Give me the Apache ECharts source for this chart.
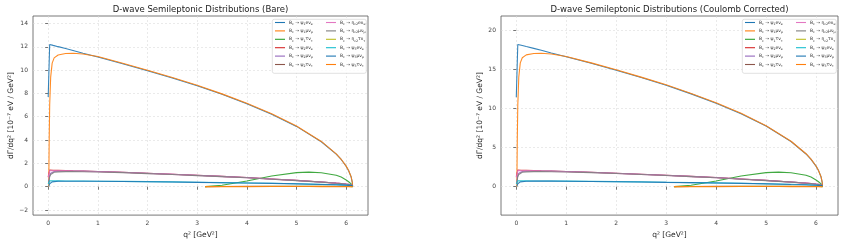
<!DOCTYPE html>
<html>
<head>
<meta charset="utf-8">
<script src="https://cdn.jsdelivr.net/npm/echarts@6/dist/echarts.min.js"></script>
<style>
  html, body { margin: 0; padding: 0; background: #fff; }
  #chart { width: 845px; height: 244px; }
</style>
</head>
<body>
<div id="chart"></div>
<script>
// q^2 grids [GeV^2] for e, mu and tau channels
const qE = [0, 0.03, 0.1, 0.2, 0.35, 0.5, 0.7, 1.0, 1.5, 2.0, 2.5, 3.0, 3.5, 4.0, 4.5, 5.0, 5.5, 5.8, 5.9, 6.0, 6.05, 6.1, 6.125, 6.13]
const qMu = [0.011, 0.02, 0.03, 0.05, 0.08, 0.12, 0.2, 0.35, 0.5, 0.7, 1.0, 1.5, 2.0, 2.5, 3.0, 3.5, 4.0, 4.5, 5.0, 5.5, 5.8, 5.9, 6.0, 6.05, 6.1, 6.125, 6.13]
const qTau = [3.16, 3.5, 4.0, 4.5, 5.0, 5.25, 5.5, 5.8, 5.9, 6.0, 6.05, 6.1, 6.13]

// tick labels
const xTicks = [0, 1, 2, 3, 4, 5, 6]
const yTicksBare = [-2, 0, 2, 4, 6, 8, 10, 12, 14]
const yTicksCoul = [0, 5, 10, 15, 20]

// series (legend order)
const names = ['psi1_e', 'psi1_mu', 'psi1_tau', 'psi2_e', 'psi2_mu', 'psi2_tau',
               'etac2_e', 'etac2_mu', 'etac2_tau', 'psi3_e', 'psi3_mu', 'psi3_tau']
const legendLabels = [
  '{t|B}{s|c}{t| → ψ}{s|1}{t|eν}{s|e}', '{t|B}{s|c}{t| → ψ}{s|1}{t|μν}{s|μ}', '{t|B}{s|c}{t| → ψ}{s|1}{t|τν}{s|τ}',
  '{t|B}{s|c}{t| → ψ}{s|2}{t|eν}{s|e}', '{t|B}{s|c}{t| → ψ}{s|2}{t|μν}{s|μ}', '{t|B}{s|c}{t| → ψ}{s|2}{t|τν}{s|τ}',
  '{t|B}{s|c}{t| → η}{s|c2}{t|eν}{s|e}', '{t|B}{s|c}{t| → η}{s|c2}{t|μν}{s|μ}', '{t|B}{s|c}{t| → η}{s|c2}{t|τν}{s|τ}',
  '{t|B}{s|c}{t| → ψ}{s|3}{t|eν}{s|e}', '{t|B}{s|c}{t| → ψ}{s|3}{t|μν}{s|μ}', '{t|B}{s|c}{t| → ψ}{s|3}{t|τν}{s|τ}'
]
const grids = [qE, qMu, qTau, qE, qMu, qTau, qE, qMu, qTau, qE, qMu, qTau]
const colors = ['#1f77b4', '#ff7f0e', '#2ca02c', '#d62728', '#9467bd', '#8c564b',
                '#e377c2', '#7f7f7f', '#bcbd22', '#17becf', '#1f77b4', '#ff7f0e']

// dGamma/dq^2 [1e-7 eV / GeV^2], bare
const bPsi1E = [7.7, 12.2, 12.12, 12.01, 11.85, 11.68, 11.45, 11.12, 10.55, 9.95, 9.32, 8.66, 7.92, 7.12, 6.22, 5.17, 3.85, 2.79, 2.33, 1.75, 1.37, 0.84, 0.34, 0]
const bPsi1Mu = [0, 4.0, 7.0, 9.4, 10.6, 11.05, 11.3, 11.42, 11.45, 11.38, 11.16, 10.59, 9.99, 9.36, 8.7, 7.96, 7.16, 6.26, 5.2, 3.88, 2.81, 2.35, 1.76, 1.38, 0.85, 0.34, 0]
const bPsi1Tau = [0, 0.12, 0.48, 0.92, 1.2, 1.25, 1.19, 0.98, 0.82, 0.57, 0.42, 0.24, 0]
const bPsi2E = [0.85, 1.42, 1.41, 1.4, 1.38, 1.36, 1.34, 1.3, 1.23, 1.15, 1.07, 0.98, 0.88, 0.78, 0.66, 0.54, 0.4, 0.3, 0.27, 0.22, 0.2, 0.16, 0.14, 0.13]
const bPsi2Mu = [0.3, 0.7, 0.95, 1.15, 1.25, 1.3, 1.33, 1.34, 1.34, 1.33, 1.3, 1.23, 1.15, 1.07, 0.98, 0.88, 0.78, 0.66, 0.54, 0.4, 0.3, 0.27, 0.22, 0.2, 0.16, 0.14, 0.13]
const bPsi2Tau = [0, 0.01, 0.02, 0.03, 0.03, 0.03, 0.03, 0.02, 0.02, 0.015, 0.01, 0.01, 0]
const bEta2E = [0.8, 1.38, 1.37, 1.36, 1.35, 1.33, 1.31, 1.28, 1.21, 1.13, 1.05, 0.96, 0.86, 0.76, 0.65, 0.53, 0.39, 0.3, 0.26, 0.22, 0.19, 0.16, 0.14, 0.13]
const bEta2Mu = [0.25, 0.6, 0.85, 1.05, 1.17, 1.23, 1.27, 1.29, 1.29, 1.28, 1.26, 1.2, 1.12, 1.04, 0.95, 0.86, 0.76, 0.64, 0.52, 0.39, 0.29, 0.26, 0.21, 0.19, 0.16, 0.14, 0.13]
const bEta2Tau = [0, 0.01, 0.015, 0.02, 0.02, 0.02, 0.02, 0.015, 0.01, 0.01, 0.01, 0.005, 0]
const bPsi3E = [0.22, 0.5, 0.5, 0.5, 0.49, 0.49, 0.48, 0.47, 0.45, 0.43, 0.41, 0.38, 0.35, 0.32, 0.29, 0.25, 0.2, 0.16, 0.15, 0.12, 0.11, 0.1, 0.09, 0.08]
const bPsi3Mu = [0.02, 0.15, 0.25, 0.35, 0.41, 0.44, 0.46, 0.47, 0.47, 0.47, 0.46, 0.44, 0.42, 0.4, 0.37, 0.34, 0.31, 0.28, 0.24, 0.19, 0.16, 0.15, 0.12, 0.11, 0.1, 0.09, 0.08]
const bPsi3Tau = [0, 0.002, 0.005, 0.008, 0.008, 0.008, 0.007, 0.005, 0.004, 0.003, 0.002, 0.001, 0]

// Coulomb corrected
const cPsi1E = [11.4, 18.15, 18.05, 17.88, 17.65, 17.4, 17.06, 16.57, 15.74, 14.86, 13.92, 12.94, 11.84, 10.65, 9.3, 7.73, 5.76, 4.17, 3.49, 2.62, 2.05, 1.26, 0.51, 0]
const cPsi1Mu = [0, 6.0, 10.4, 14.0, 15.8, 16.45, 16.82, 17.0, 17.03, 16.94, 16.62, 15.8, 14.92, 13.98, 13.0, 11.9, 10.7, 9.36, 7.78, 5.8, 4.2, 3.52, 2.63, 2.06, 1.27, 0.51, 0]
const cPsi1Tau = [0, 0.18, 0.72, 1.37, 1.79, 1.86, 1.77, 1.46, 1.22, 0.85, 0.63, 0.36, 0]
const cPsi2E = [1.27, 2.12, 2.1, 2.09, 2.06, 2.03, 2.0, 1.94, 1.83, 1.71, 1.59, 1.46, 1.31, 1.16, 0.98, 0.8, 0.6, 0.45, 0.4, 0.33, 0.3, 0.24, 0.21, 0.19]
const cPsi2Mu = [0.45, 1.04, 1.42, 1.71, 1.86, 1.94, 1.98, 2.0, 2.0, 1.98, 1.94, 1.83, 1.71, 1.59, 1.46, 1.31, 1.16, 0.98, 0.8, 0.6, 0.45, 0.4, 0.33, 0.3, 0.24, 0.21, 0.19]
const cPsi2Tau = [0, 0.015, 0.03, 0.045, 0.045, 0.045, 0.045, 0.03, 0.03, 0.022, 0.015, 0.015, 0]
const cEta2E = [1.19, 2.06, 2.04, 2.03, 2.01, 1.98, 1.95, 1.91, 1.8, 1.68, 1.56, 1.43, 1.28, 1.13, 0.97, 0.79, 0.58, 0.45, 0.39, 0.33, 0.28, 0.24, 0.21, 0.19]
const cEta2Mu = [0.37, 0.89, 1.27, 1.56, 1.74, 1.83, 1.89, 1.92, 1.92, 1.91, 1.88, 1.79, 1.67, 1.55, 1.42, 1.28, 1.13, 0.95, 0.77, 0.58, 0.43, 0.39, 0.31, 0.28, 0.24, 0.21, 0.19]
const cEta2Tau = [0, 0.015, 0.022, 0.03, 0.03, 0.03, 0.03, 0.022, 0.015, 0.015, 0.015, 0.007, 0]
const cPsi3E = [0.33, 0.74, 0.74, 0.74, 0.73, 0.73, 0.72, 0.7, 0.67, 0.64, 0.61, 0.57, 0.52, 0.48, 0.43, 0.37, 0.3, 0.24, 0.22, 0.18, 0.16, 0.15, 0.13, 0.12]
const cPsi3Mu = [0.03, 0.22, 0.37, 0.52, 0.61, 0.66, 0.69, 0.7, 0.7, 0.7, 0.69, 0.66, 0.63, 0.6, 0.55, 0.51, 0.46, 0.42, 0.36, 0.28, 0.24, 0.22, 0.18, 0.16, 0.15, 0.13, 0.12]
const cPsi3Tau = [0, 0.003, 0.007, 0.012, 0.012, 0.012, 0.01, 0.007, 0.006, 0.004, 0.003, 0.0015, 0]

const bare = [bPsi1E, bPsi1Mu, bPsi1Tau, bPsi2E, bPsi2Mu, bPsi2Tau, bEta2E, bEta2Mu, bEta2Tau, bPsi3E, bPsi3Mu, bPsi3Tau]
const coul = [cPsi1E, cPsi1Mu, cPsi1Tau, cPsi2E, cPsi2Mu, cPsi2Tau, cEta2E, cEta2Mu, cEta2Tau, cPsi3E, cPsi3Mu, cPsi3Tau]

const font = 'DejaVu Sans'
const minus = v => (v < 0 ? '\u2212' + Math.abs(v) : String(v))

// 两个面板的位置
const panels = [
  { left: 33, width: 335, ymin: -2.44, ymax: 14.64, yTicks: yTicksBare, data: bare,
    title: 'D-wave Semileptonic Distributions (Bare)', legendX: 275, boxX: 272 },
  { left: 501, width: 337, ymin: -3.63, ymax: 21.78, yTicks: yTicksCoul, data: coul,
    title: 'D-wave Semileptonic Distributions (Coulomb Corrected)', legendX: 745, boxX: 742 }
]

const option = {
  animation: false,
  textStyle: { fontFamily: font },
  title: [],
  grid: [],
  xAxis: [],
  yAxis: [],
  legend: [],
  series: [],
  graphic: []
}

panels.forEach((p, k) => {
  option.title.push({
    text: p.title, left: p.left + p.width / 2, top: 5, padding: 0, textAlign: 'center',
    textStyle: { fontSize: 8.5, fontWeight: 'normal', color: '#222', fontFamily: font }
  })
  option.grid.push({
    left: p.left, top: 16, width: p.width, height: 200,
    show: true, borderColor: '#555', borderWidth: 0.8, backgroundColor: 'transparent'
  })
  option.xAxis.push({
    type: 'value', gridIndex: k, min: -0.306, max: 6.44,
    name: 'q² [GeV²]', nameLocation: 'middle', nameGap: 12,
    nameTextStyle: { fontSize: 7.5, color: '#222' },
    axisLine: { show: false },
    axisTick: { show: true, length: 3, customValues: xTicks, lineStyle: { color: '#555', width: 0.8 } },
    axisLabel: { customValues: xTicks, fontSize: 6, color: '#444', margin: 5, formatter: minus },
    splitLine: { show: true, lineStyle: { color: '#ddd', type: [2, 2], width: 0.6 } }
  })
  option.yAxis.push({
    type: 'value', gridIndex: k, min: p.ymin, max: p.ymax,
    name: 'dΓ/dq² [10⁻⁷ eV / GeV²]', nameLocation: 'middle', nameRotate: 90, nameGap: 16,
    nameTextStyle: { fontSize: 7.5, color: '#222' },
    axisLine: { show: false },
    axisTick: { show: true, length: 3, customValues: p.yTicks, lineStyle: { color: '#555', width: 0.8 } },
    axisLabel: { customValues: p.yTicks, fontSize: 6, color: '#444', margin: 5, formatter: minus },
    splitLine: { show: true, lineStyle: { color: '#ddd', type: [2, 2], width: 0.6 } }
  })
  // legend frame
  option.graphic.push({
    type: 'rect', left: p.boxX, top: 19, z: 50,
    shape: { width: 94, height: 54, r: 2 },
    style: { fill: 'rgba(255,255,255,0.85)', stroke: '#ccc', lineWidth: 0.6 }
  })
  // 图例: two columns of six
  for (let c = 0; c < 2; c++) {
    option.legend.push({
      left: p.legendX + c * 51, top: 20, orient: 'vertical', padding: 0,
      icon: 'rect', itemWidth: 10, itemHeight: 1.1, itemGap: 2.9, z: 60,
      data: names.slice(c * 6, c * 6 + 6),
      selectedMode: false,
      formatter: name => legendLabels[names.indexOf(name)],
      textStyle: {
        fontSize: 4.5, color: '#333', padding: [0, 0, 0, -1],
        rich: {
          t: { fontSize: 4.5, lineHeight: 6, color: '#333' },
          s: { fontSize: 3.2, lineHeight: 6, verticalAlign: 'bottom', color: '#333' }
        }
      }
    })
  }
  names.forEach((n, i) => {
    option.series.push({
      name: n, type: 'line', xAxisIndex: k, yAxisIndex: k,
      showSymbol: false, symbol: 'none', clip: true,
      color: colors[i],
      lineStyle: { width: 1.1, color: colors[i], opacity: 0.9 },
      data: grids[i].map((q, j) => [q, p.data[i][j]])
    })
  })
})

const chart = echarts.init(document.getElementById('chart'), null, { renderer: 'canvas' })
chart.setOption(option)
</script>
</body>
</html>
